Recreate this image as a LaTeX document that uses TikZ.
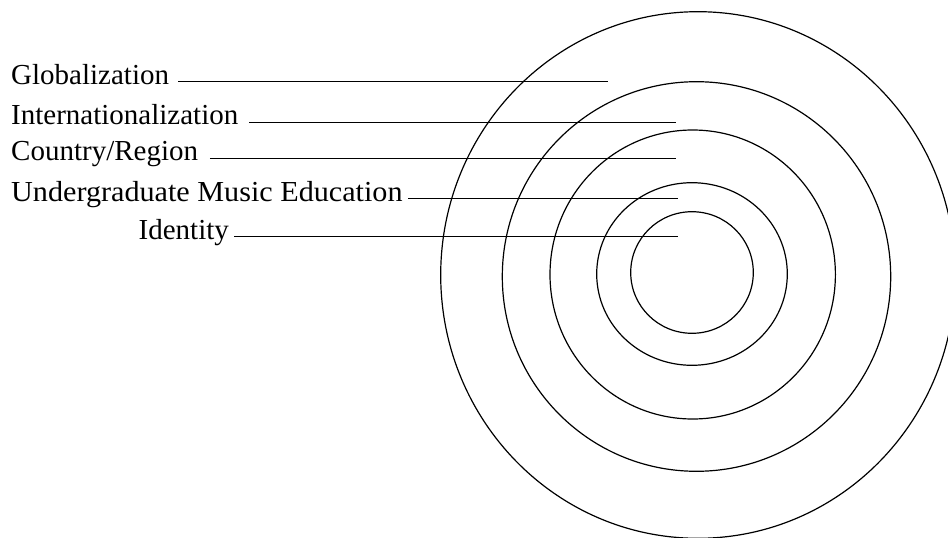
\documentclass[tikz,border=0pt]{standalone}
\usepackage{fontspec}
\setmainfont{Liberation Serif}
\begin{document}
\begin{tikzpicture}[x=1pt,y=-1pt,
  lbl/.style={anchor=west,inner sep=0pt,text height=0.7em,text depth=0.2em,
    font=\fontsize{29pt}{34pt}\selectfont},
  ring/.style={draw=black,line width=1.2pt},
  conn/.style={draw=black,line width=1.3pt}]
\useasboundingbox[fill=white] (0,0) rectangle (948,538);
\clip (0,0) rectangle (948,538);
% rings
\draw[ring] (698,275) ellipse [x radius=257.3pt, y radius=263.3pt];
\draw[ring] (696.5,276.5) ellipse [x radius=194.2pt, y radius=194.8pt];
\draw[ring] (692.7,274.5) ellipse [x radius=142.7pt, y radius=144.5pt];
\draw[ring] (692,274) ellipse [x radius=95.3pt, y radius=91.3pt];
\draw[ring] (692,272.5) ellipse [x radius=61.3pt, y radius=60.8pt];
% labels
\node[lbl] (gl) at (11,81.7) {Globalization};
\node[lbl] (in) at (11,122.3) {Internationalization};
\node[lbl] (co) at (11,158.3) {Country/Region};
\node[lbl,xscale=1.04] (um) at (11,198.5) {Undergraduate Music Education};
\node[lbl] (id) at (138.5,236.7) {Identity};
% end points
\coordinate (e1) at (607.7,81.7);
\coordinate (e2) at (675.7,122.3);
\coordinate (e3) at (675.7,158.3);
\coordinate (e4) at (678,198.5);
\coordinate (e5) at (678,236.7);
% connectors
\draw[conn] ([xshift=9pt]gl.east) -- (e1);
\draw[conn] ([xshift=10.7pt]in.east) -- (e2);
\draw[conn] ([xshift=11.6pt]co.east) -- (e3);
\draw[conn] ([xshift=5.6pt]um.east) -- (e4);
\draw[conn] ([xshift=5pt]id.east) -- (e5);
\end{tikzpicture}
\end{document}
